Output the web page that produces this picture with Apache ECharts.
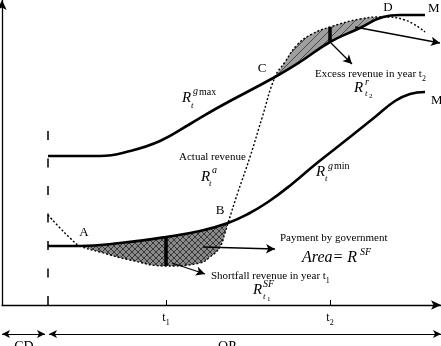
<!DOCTYPE html>
<html><head><meta charset="utf-8">
<script src="https://cdn.jsdelivr.net/npm/echarts@6/dist/echarts.min.js"></script>
<style>html,body{margin:0;padding:0;background:#fff}#c{width:441px;height:346px}</style>
</head><body><div id="c"></div>
<script>
// ---- data (x = time, y = revenue, arbitrary units) ----
const maxCurve = [[46,149],[98,149],[128,154],[158,164],[188,181],[217,198],[273,228],[298,243],[328,263],[358,277],[381,288],[398,290],[423,290]];
const minCurve = [[46,59],[78,59],[118,62],[164,68],[198,74],[226,82],[246,91],[266,103],[290,121],[315,142],[348,168],[373,188],[393,204],[408,211],[423,213]];
const actualCurve = [[46,90],[58,77],[68,67],[78,59],[98,53],[128,45],[164,39],[198,42],[208,48],[218,58],[223,72],[226,82],[236,113],[248,148],[260,187],[273,228],[283,243],[295,260],[310,271],[328,278],[358,286],[381,288],[403,285],[423,273]];
const pointNames = ['A','B','C','D'];
const pointX = [78, 226, 273, 381];
const tickValues = [164, 328];
const tickNames = ['1', '2'];
const cdEnd = 43, opStart = 47, opEnd = 439, xMax = 439, yMax = 305, yMin = -41;

const FONT = '"Liberation Serif","Times New Roman",serif';
const SMOOTH = 0.45;
const yAt = (arr, x) => arr.find(p => p[0] === x)[1];
const between = (arr, a, b) => arr.filter(p => p[0] >= a && p[0] <= b);

function pattern(kind) {
  const c = document.createElement('canvas');
  const g = c.getContext('2d');
  if (kind === 'cross') {
    c.width = c.height = 6;
    g.fillStyle = '#8a8a8a'; g.fillRect(0, 0, 6, 6);
    g.strokeStyle = '#222'; g.lineWidth = 0.8;
    g.beginPath(); g.moveTo(0, 0); g.lineTo(6, 6); g.moveTo(6, 0); g.lineTo(0, 6); g.stroke();
  } else {
    c.width = c.height = 8;
    g.fillStyle = '#9e9e9e'; g.fillRect(0, 0, 8, 8);
    g.strokeStyle = '#4a4a4a'; g.lineWidth = 1;
    g.beginPath(); g.moveTo(0, 8); g.lineTo(8, 0); g.stroke();
  }
  return { image: c, repeat: 'repeat' };
}

const chart = echarts.init(document.getElementById('c'), null, { renderer: 'canvas' });
const A = pointX[0], B = pointX[1], C = pointX[2], D = pointX[3];
const t1 = tickValues[0], t2 = tickValues[1];

function fill(data, color, z) {
  return { type: 'line', data, smooth: SMOOTH, showSymbol: false, silent: true, z,
    lineStyle: { width: 0, opacity: 0 }, areaStyle: { color, opacity: 1, origin: 'start' } };
}
function curve(data, width, type) {
  return { type: 'line', data, smooth: SMOOTH, showSymbol: false, silent: true, z: 3,
    lineStyle: { color: '#000', width, type } };
}
function seg(from, to, s0, s1, lineStyle, size) {
  return [
    { coord: from, symbol: s0, symbolSize: size || [7, 9], lineStyle: Object.assign({ color: '#000', width: 1.3, type: 'solid' }, lineStyle) },
    { coord: to, symbol: s1, symbolSize: size || [7, 9] }
  ];
}

const marks = [
  seg([0, 0], [0, yMax], 'none', 'arrow', { width: 1.3 }, [7, 10]),
  seg([0, -29], [cdEnd, -29], 'arrow', 'arrow', { width: 1 }, [6, 8]),
  seg([opStart, -29], [opEnd, -29], 'arrow', 'arrow', { width: 1 }, [6, 8]),
  seg([46, 0], [46, 175], 'none', 'none', { width: 1.5, type: [9, 18.5] }),
  seg([t1, yAt(minCurve, t1)], [t1, yAt(actualCurve, t1)], 'none', 'none', { width: 3.5 }),
  seg([t2, yAt(maxCurve, t2)], [t2, yAt(actualCurve, t2)], 'none', 'none', { width: 3.5 }),
  seg([201, 58], [273, 56], 'none', 'arrow', {}),
  seg([170, 42], [203, 31], 'none', 'arrow', { curveness: -0.35 }),
  seg([353, 278], [438, 262], 'none', 'arrow', {}),
  seg([329, 262], [350, 241], 'none', 'arrow', { curveness: -0.4 })
];

const option = {
  animation: false,
  backgroundColor: '#fff',
  grid: { left: 2, right: 0, top: 0, bottom: 0, containLabel: false, outerBoundsMode: 'none' },
  xAxis: {
    type: 'value', min: 0, max: xMax, z: 6,
    axisLine: { onZero: true, symbol: ['none', 'arrow'], symbolSize: [7, 10], lineStyle: { color: '#000', width: 1.3 } },
    axisTick: { show: true, inside: true, length: 5, customValues: tickValues, lineStyle: { color: '#000', width: 1 } },
    axisLabel: { show: false },
    splitLine: { show: false }
  },
  yAxis: { type: 'value', min: yMin, max: yMax, show: false, splitLine: { show: false } },
  series: [
    fill(between(minCurve, A, B), pattern('cross'), 1),
    fill(between(actualCurve, A, B), '#fff', 1.1),
    fill(between(actualCurve, C, D), pattern('diag'), 1.2),
    fill(between(maxCurve, C, D), '#fff', 1.3),
    curve(maxCurve, 2.6, 'solid'),
    curve(minCurve, 2.6, 'solid'),
    curve(actualCurve, 1.4, [2, 2]),
    { type: 'line', data: [], z: 5, silent: true,
      markLine: { silent: true, animation: false, label: { show: false }, emphasis: { disabled: true }, data: marks } }
  ]
};
chart.setOption(option);

// ---- text annotations ----
function T(x, y, text, size, style = {}) {
  return { type: 'text', x, y, z: 100, silent: true,
    style: Object.assign({ text, fill: '#000', font: (style.italic ? 'italic ' : '') + size + 'px ' + FONT,
      align: style.align || 'left', verticalAlign: 'middle' }, style.rich ? { rich: style.rich } : {}) };
}
const subRich = { s: { fontSize: 8, fontFamily: FONT, fill: '#000', verticalAlign: 'bottom', padding: [0, 0, -3, 0] } };
const tickTexts = tickValues.map((v, i) => {
  const p = chart.convertToPixel({ gridIndex: 0 }, [v, 0]);
  return T(p[0], p[1] + 13, 't{s|' + tickNames[i] + '}', 12, { align: 'center', rich: subRich });
});
const texts = tickTexts.concat([
  T(84, 233, 'A', 13, { align: 'center' }),
  T(220, 211, 'B', 13, { align: 'center' }),
  T(262, 69, 'C', 13, { align: 'center' }),
  T(388, 8, 'D', 13, { align: 'center' }),
  T(428, 9, 'M', 13),
  T(431, 101, 'M', 13),
  T(179, 157, 'Actual revenue', 11),
  T(280, 238, 'Payment by government', 11),
  T(315, 74, 'Excess revenue in year t{s|2}', 11, { rich: subRich }),
  T(211, 276, 'Shortfall revenue in year t{s|1}', 11, { rich: subRich }),
  T(182, 98, 'R', 15, { italic: true }), T(193, 91, 'g', 10, { italic: true }), T(199, 92, 'max', 10), T(191, 106, 't', 9, { italic: true }),
  T(201, 177, 'R', 15, { italic: true }), T(212, 170, 'a', 10, { italic: true }), T(209, 184, 't', 9, { italic: true }),
  T(316, 172, 'R', 15, { italic: true }), T(328, 166, 'g', 10, { italic: true }), T(334, 166, 'min', 10), T(325, 179, 't', 9, { italic: true }),
  T(354, 88, 'R', 15, { italic: true }), T(365, 82, 'r', 10, { italic: true }), T(365, 94, 't', 9, { italic: true }), T(369, 96, '2', 7),
  T(302, 258, 'Area= R', 16, { italic: true }), T(360, 252, 'SF', 10, { italic: true }),
  T(253, 290, 'R', 15, { italic: true }), T(263, 284, 'SF', 10, { italic: true }), T(263, 297, 't', 9, { italic: true }), T(267, 299, '1', 7),
  T(24, 347, 'CD', 14, { align: 'center' }),
  T(227, 347, 'OP', 14, { align: 'center' })
]);
chart.setOption({ graphic: { elements: texts } });
</script>
</body></html>
